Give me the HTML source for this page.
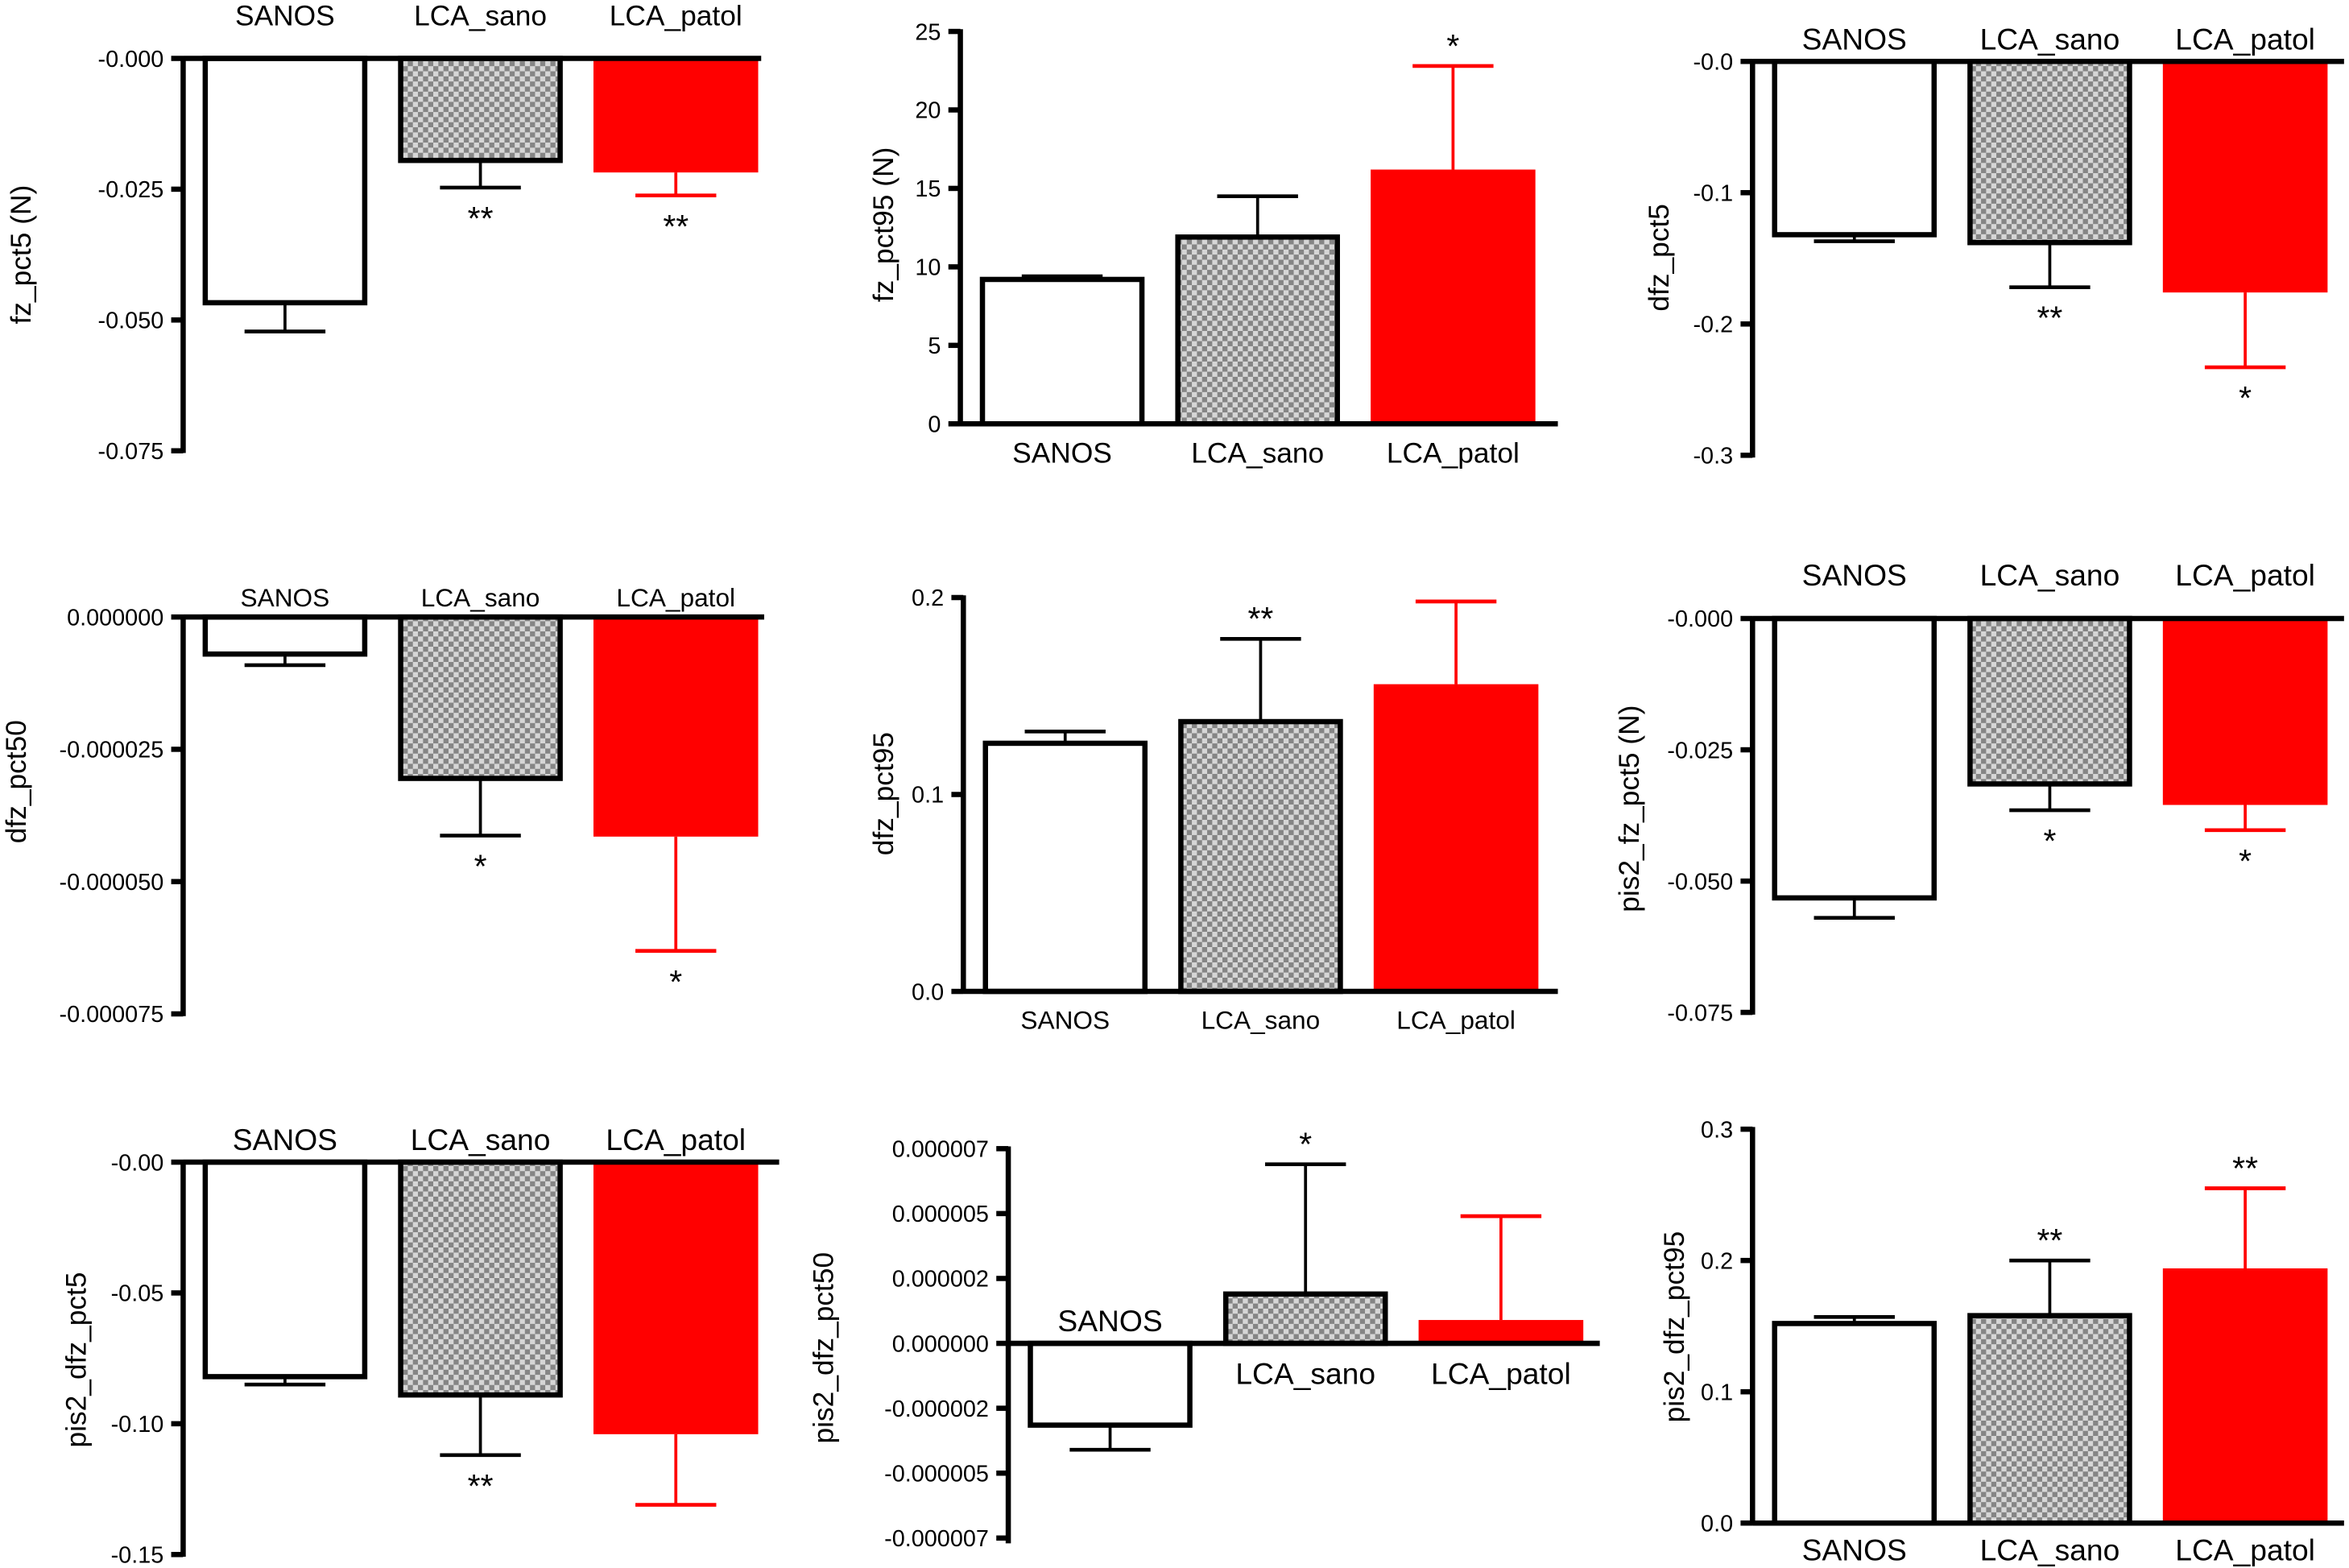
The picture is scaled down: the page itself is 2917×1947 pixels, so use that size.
<!DOCTYPE html>
<html><head><meta charset="utf-8">
<style>
html,body{margin:0;padding:0;background:#fff;}
svg{display:block;}
text{font-family:"Liberation Sans",sans-serif;fill:#000;}
</style></head>
<body>
<svg id="fig" width="2917" height="1947" viewBox="0 0 1568 1047" xmlns="http://www.w3.org/2000/svg">
<defs>
<pattern id="checker" width="6.8" height="6.8" patternUnits="userSpaceOnUse">
<rect width="6.8" height="6.8" fill="#d6d6d6"/>
<rect width="3.4" height="3.4" fill="#858585"/>
<rect x="3.4" y="3.4" width="3.4" height="3.4" fill="#858585"/>
</pattern>
</defs>
</svg>
<script>
const categories = ["SANOS","LCA_sano","LCA_patol"];
// Panel data (value, error end)
const p1Values=[-0.0467,-0.0195,-0.0218], p1Err=[-0.0522,-0.0247,-0.0262], p1Stars=["","**","**"];
const p2Values=[9.2,11.9,16.2], p2Err=[9.4,14.5,22.8], p2Stars=["","","*"];
const p3Values=[-0.132,-0.138,-0.176], p3Err=[-0.137,-0.172,-0.233], p3Stars=["","**","*"];
const p4Values=[-0.000007,-0.0000305,-0.0000415], p4Err=[-0.0000091,-0.0000413,-0.0000631], p4Stars=["","*","*"];
const p5Values=[0.126,0.137,0.156], p5Err=[0.132,0.179,0.198], p5Stars=["","**",""];
const p6Values=[-0.0532,-0.0315,-0.0355], p6Err=[-0.057,-0.0365,-0.0403], p6Stars=["","*","*"];
const p7Values=[-0.082,-0.089,-0.104], p7Err=[-0.085,-0.112,-0.131], p7Stars=["","**",""];
const p8Values=[-0.00000315,0.0000019,0.0000009], p8Err=[-0.0000041,0.0000069,0.0000049], p8Stars=["","*",""];
const p9Values=[0.152,0.158,0.194], p9Err=[0.157,0.200,0.255], p9Stars=["","**","**"];
// Tick values and labels
const p1Ticks=[0,-0.025,-0.05,-0.075], p1TickLabels=["-0.000","-0.025","-0.050","-0.075"];
const p2Ticks=[0,5,10,15,20,25], p2TickLabels=["0","5","10","15","20","25"];
const p3Ticks=[0,-0.1,-0.2,-0.3], p3TickLabels=["-0.0","-0.1","-0.2","-0.3"];
const p4Ticks=[0,-0.000025,-0.00005,-0.000075], p4TickLabels=["0.000000","-0.000025","-0.000050","-0.000075"];
const p5Ticks=[0,0.1,0.2], p5TickLabels=["0.0","0.1","0.2"];
const p6Ticks=[0,-0.025,-0.05,-0.075], p6TickLabels=["-0.000","-0.025","-0.050","-0.075"];
const p7Ticks=[0,-0.05,-0.1,-0.15], p7TickLabels=["-0.00","-0.05","-0.10","-0.15"];
const p8Ticks=[0.0000075,0.000005,0.0000025,0,-0.0000025,-0.000005,-0.0000075], p8TickLabels=["0.000007","0.000005","0.000002","0.000000","-0.000002","-0.000005","-0.000007"];
const p9Ticks=[0,0.1,0.2,0.3], p9TickLabels=["0.0","0.1","0.2","0.3"];

const NS="http://www.w3.org/2000/svg";
const svg=document.getElementById('fig');
function mk(tag,attrs,parent){const e=document.createElementNS(NS,tag);for(const k in attrs)e.setAttribute(k,attrs[k]);(parent||svg).appendChild(e);return e;}

const panels=[
 {id:1,vals:p1Values,err:p1Err,stars:p1Stars,ticks:p1Ticks,tl:p1TickLabels,ax:122,v0:0,px0:39,v1:-0.075,px1:301,yMin:39,yMax:301,title:"fz_pct5 (N)",tx:20,ty:170,lab:"top",labY:17,labFs:19,zeroEnd:508},
 {id:2,vals:p2Values,err:p2Err,stars:p2Stars,ticks:p2Ticks,tl:p2TickLabels,ax:641,v0:0,px0:283,v1:25,px1:21,yMin:21,yMax:283,title:"fz_pct95 (N)",tx:596,ty:150,lab:"bottom",labY:309,labFs:19,zeroEnd:1040},
 {id:3,vals:p3Values,err:p3Err,stars:p3Stars,ticks:p3Ticks,tl:p3TickLabels,ax:1170,v0:0,px0:41,v1:-0.3,px1:304,yMin:41,yMax:304,title:"dfz_pct5",tx:1114,ty:172,lab:"top",labY:33,labFs:20,zeroEnd:1565},
 {id:4,vals:p4Values,err:p4Err,stars:p4Stars,ticks:p4Ticks,tl:p4TickLabels,ax:122,v0:0,px0:412,v1:-0.000075,px1:677,yMin:412,yMax:677,title:"dfz_pct50",tx:17,ty:522,lab:"top",labY:405,labFs:17,zeroEnd:510},
 {id:5,vals:p5Values,err:p5Err,stars:p5Stars,ticks:p5Ticks,tl:p5TickLabels,ax:643,v0:0,px0:662,v1:0.2,px1:399,yMin:399,yMax:662,title:"dfz_pct95",tx:596,ty:530,lab:"bottom",labY:687,labFs:17,zeroEnd:1040},
 {id:6,vals:p6Values,err:p6Err,stars:p6Stars,ticks:p6Ticks,tl:p6TickLabels,ax:1170,v0:0,px0:413,v1:-0.075,px1:676,yMin:413,yMax:676,title:"pis2_fz_pct5 (N)",tx:1094,ty:540,lab:"top",labY:391,labFs:20,zeroEnd:1565},
 {id:7,vals:p7Values,err:p7Err,stars:p7Stars,ticks:p7Ticks,tl:p7TickLabels,ax:122,v0:0,px0:776,v1:-0.15,px1:1038,yMin:776,yMax:1038,title:"pis2_dfz_pct5",tx:57,ty:908,lab:"top",labY:768,labFs:20,zeroEnd:520},
 {id:8,vals:p8Values,err:p8Err,stars:p8Stars,ticks:p8Ticks,tl:p8TickLabels,ax:673,v0:0,px0:897,v1:0.0000075,px1:767,yMin:767,yMax:1029,title:"pis2_dfz_pct50",tx:556,ty:900,lab:"auto",labY:0,labFs:20,zeroEnd:1068},
 {id:9,vals:p9Values,err:p9Err,stars:p9Stars,ticks:p9Ticks,tl:p9TickLabels,ax:1170,v0:0,px0:1017,v1:0.3,px1:754,yMin:754,yMax:1017,title:"pis2_dfz_pct95",tx:1124,ty:886,lab:"bottom",labY:1042,labFs:20,zeroEnd:1565}
];

panels.forEach(p=>{
  const g=mk('g',{});
  
  
  const y=v=>p.px0+(v-p.v0)/(p.v1-p.v0)*(p.px1-p.px0);
  const y0=y(0);
  categories.forEach((c,i)=>{
    const left=p.ax+13+i*130.5, w=110, cx=left+w/2;
    const vy=y(p.vals[i]), ey=y(p.err[i]);
    const top=Math.min(vy,y0), h=Math.abs(vy-y0);
    const red=i===2;
    const fill=i===0?'#fff':(i===1?'url(#checker)':'#ff0000');
    const col=red?'#ff0000':'#000';
    const eb=mk('line',{x1:cx,x2:cx,y1:vy,y2:ey,stroke:col,'stroke-width':2},g);
    
    
    const cap=mk('line',{x1:cx-27,x2:cx+27,y1:ey,y2:ey,stroke:col,'stroke-width':2.5},g);
    
    
    const r=mk('rect',{x:left+(red?0:1.75),y:top,width:w-(red?0:3.5),height:h,fill:fill,stroke:red?'none':'#000','stroke-width':3.5},g);
    
    
    if(p.stars[i]){
      const below=p.err[i]<0;
      const st=mk('text',{x:cx,y:below?ey+28:ey-6,'text-anchor':'middle','font-size':22},g);
      st.textContent=p.stars[i];
      
      
    }
    let ly=p.labY;
    if(p.lab==='auto'){ ly=p.vals[i]<0? y0-8 : y0+27; }
    const lt=mk('text',{x:cx,y:ly,'text-anchor':'middle','font-size':p.labFs},g);
    lt.textContent=c;
    
    
  });
  const zl=mk('line',{x1:p.ax,x2:p.zeroEnd,y1:y0,y2:y0,stroke:'#000','stroke-width':3.5},g);
  
  
  const ya=mk('line',{x1:p.ax,x2:p.ax,y1:p.yMin-1.5,y2:p.yMax+1.5,stroke:'#000','stroke-width':3.5},g);
  
  
  p.ticks.forEach((t,k)=>{
    const ty=y(t);
    const tk=mk('line',{x1:p.ax-8,x2:p.ax,y1:ty,y2:ty,stroke:'#000','stroke-width':3.5},g);
    
    
    const tt=mk('text',{x:p.ax-13,y:ty+5.5,'text-anchor':'end','font-size':15.5},g);
    tt.textContent=p.tl[k];
    
    
  });
  const yt=mk('text',{x:p.tx,y:p.ty,'text-anchor':'middle','font-size':19,transform:'rotate(-90 '+p.tx+' '+p.ty+')'},g);
  yt.textContent=p.title;
  
  
});
</script>
</body></html>
